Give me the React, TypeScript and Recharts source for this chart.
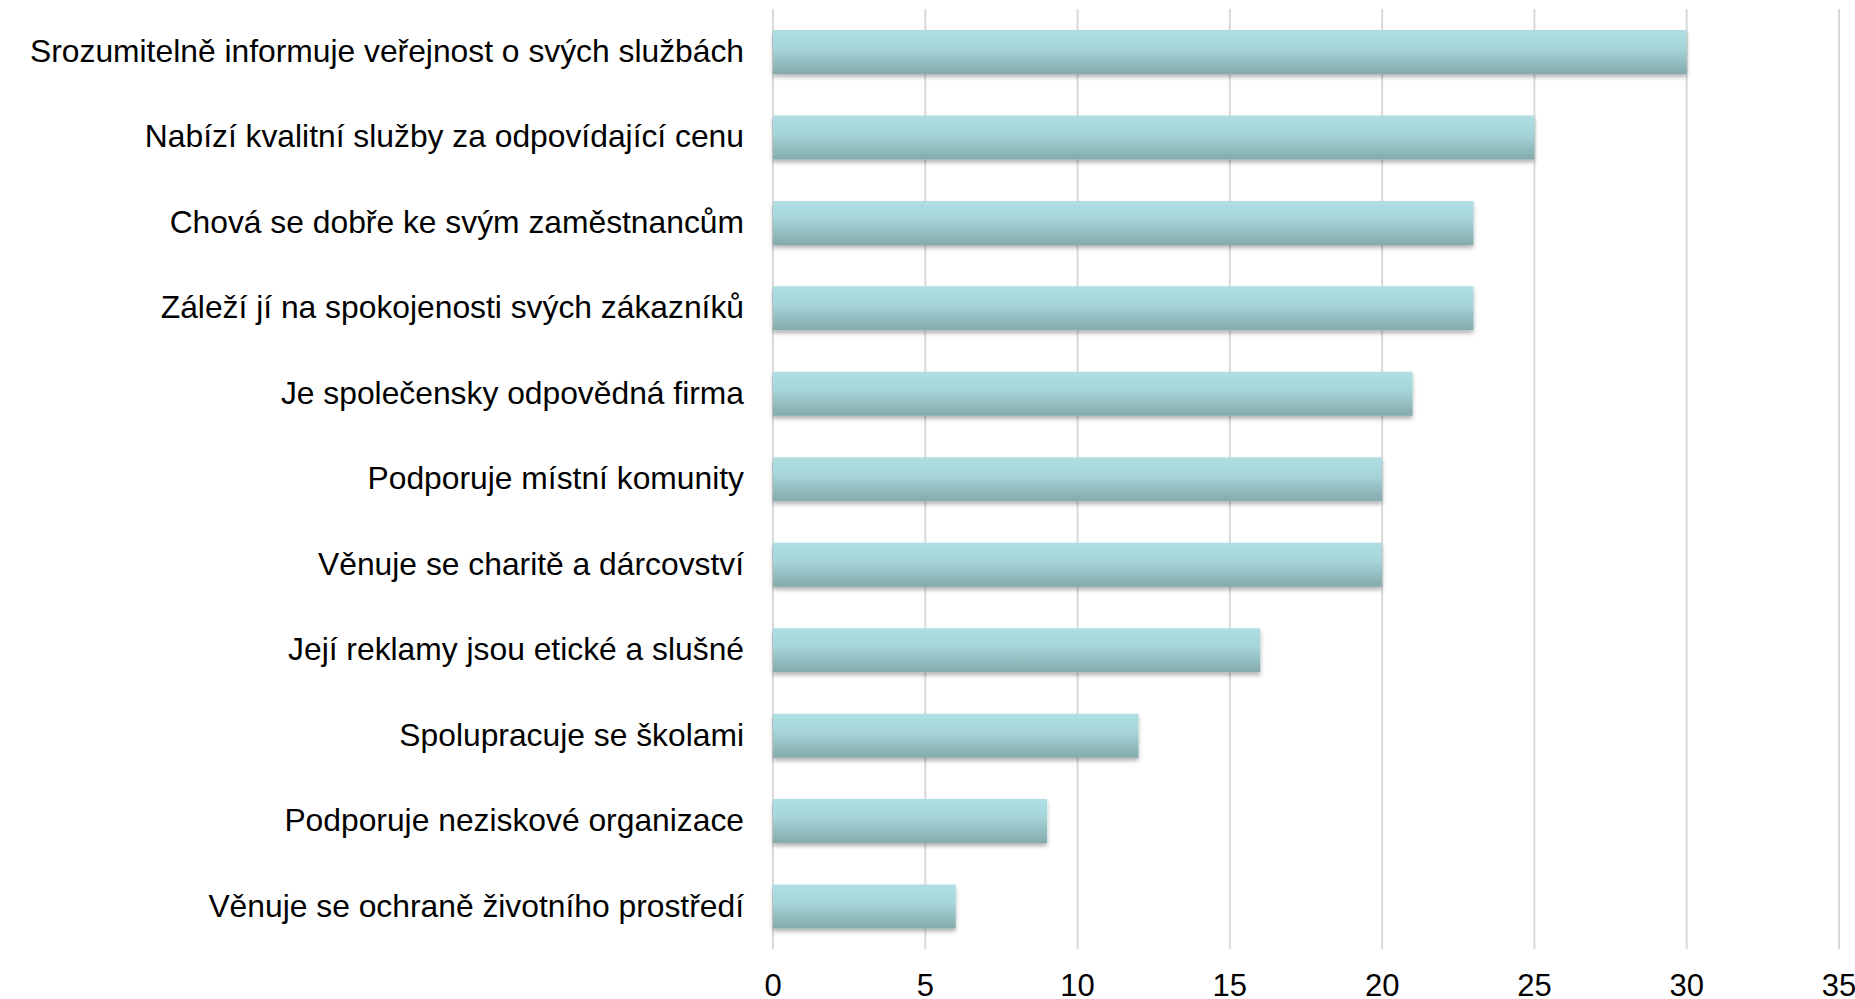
import React from "react";
import { BarChart, Bar, XAxis, YAxis, CartesianGrid } from "recharts";

const categories = [
  "Srozumitelně informuje veřejnost o svých službách",
  "Nabízí kvalitní služby za odpovídající cenu",
  "Chová se dobře ke svým zaměstnancům",
  "Záleží jí na spokojenosti svých zákazníků",
  "Je společensky odpovědná firma",
  "Podporuje místní komunity",
  "Věnuje se charitě a dárcovství",
  "Její reklamy jsou etické a slušné",
  "Spolupracuje se školami",
  "Podporuje neziskové organizace",
  "Věnuje se ochraně životního prostředí",
];
const values = [30, 25, 23, 23, 21, 20, 20, 16, 12, 9, 6];
const xTicks = [0, 5, 10, 15, 20, 25, 30, 35];

const data = categories.map((name, i) => ({ name, value: values[i] }));

const FONT = "'Liberation Sans', Arial, sans-serif";

export default function App() {
  return (
    <div
      style={{
        position: "fixed",
        left: 0,
        top: 0,
        width: 1855,
        height: 999,
        overflow: "hidden",
        background: "#fff",
      }}
    >
      <BarChart
        width={1900}
        height={1000}
        data={data}
        layout="vertical"
        margin={{ top: 9, right: 61, bottom: 0, left: 0 }}
        barSize={44}
      >
        <defs>
          <linearGradient id="barGrad" x1="0" y1="0" x2="0" y2="1">
            <stop offset="0%" stopColor="#AFDFE3" />
            <stop offset="40%" stopColor="#A7D6DA" />
            <stop offset="100%" stopColor="#84AAAC" />
          </linearGradient>
          <filter id="shadow" x="-5%" y="-20%" width="110%" height="150%">
            <feDropShadow dx="0" dy="3" stdDeviation="2" floodColor="#000" floodOpacity="0.3" />
          </filter>
        </defs>
        <CartesianGrid horizontal={false} vertical stroke="#D9D9D9" strokeWidth={2} />
        <XAxis
          type="number"
          domain={[0, 35]}
          ticks={xTicks}
          interval={0}
          axisLine={false}
          tickLine={false}
          tickSize={0}
          tickMargin={25}
          height={51}
          tick={{ fontSize: 31, fill: "#000", fontFamily: FONT }}
        />
        <YAxis
          type="category"
          dataKey="name"
          width={773}
          interval={0}
          axisLine={false}
          tickLine={false}
          tickSize={0}
          tickMargin={29}
          tick={{ fontSize: 31.8, fill: "#000", fontFamily: FONT, dy: -1 }}
        />
        <Bar
          dataKey="value"
          fill="url(#barGrad)"
          filter="url(#shadow)"
          isAnimationActive={false}
        />
      </BarChart>
    </div>
  );
}
